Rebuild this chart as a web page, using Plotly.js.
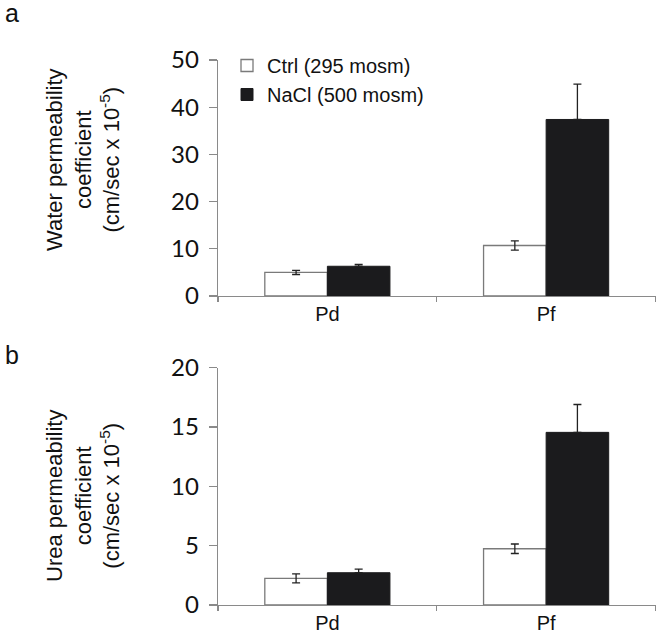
<!DOCTYPE html>
<html>
<head>
<meta charset="utf-8">
<script src="https://cdn.plot.ly/plotly-3.0.1.min.js"></script>
<style>html,body{margin:0;padding:0;background:#fff;}#chart{width:664px;height:636px;}</style>
</head>
<body>
<div id="chart"></div>
<script>
// ---- data ----
const categories = ['Pd', 'Pf'];
const seriesNames = ['Ctrl (295 mosm)', 'NaCl (500 mosm)'];
// panel a: water permeability
const waterCtrl = [5.0, 10.7];
const waterCtrlErr = [0.45, 1.0];
const waterNaCl = [6.3, 37.4];
const waterNaClErr = [0.4, 7.5];
// panel b: urea permeability
const ureaCtrl = [2.25, 4.74];
const ureaCtrlErr = [0.38, 0.4];
const ureaNaCl = [2.72, 14.55];
const ureaNaClErr = [0.3, 2.35];
const waterTicks = [0, 10, 20, 30, 40, 50];
const ureaTicks = [0, 5, 10, 15, 20];

// ---- styles ----
const ARIAL = 'Liberation Sans, Arial, sans-serif';
const TICKFONT = 'Lato, Liberation Sans, sans-serif';
const AXIS = '#8a8a8a';
const ctrlStyle = {color: '#ffffff', line: {color: '#7a7a7a', width: 1.3}};
const naclStyle = {color: '#1b1b1d', line: {color: '#1b1b1d', width: 1}};

function bar(y, err, name, style, xa, ya, legend, bothSides) {
  const e = {type: 'data', array: err, color: '#222', thickness: 1.3, width: 4};
  if (bothSides) { e.symmetric = true; }
  else { e.symmetric = false; e.arrayminus = err.map(function () { return 0; }); }
  return {
    type: 'bar', x: categories, y: y, name: name,
    marker: style, xaxis: xa, yaxis: ya, showlegend: legend,
    error_y: e, hoverinfo: 'skip'
  };
}

const traces = [
  bar(waterCtrl, waterCtrlErr, seriesNames[0], ctrlStyle, 'x', 'y', true, true),
  bar(waterNaCl, waterNaClErr, seriesNames[1], naclStyle, 'x', 'y', true, false),
  bar(ureaCtrl, ureaCtrlErr, seriesNames[0], ctrlStyle, 'x2', 'y2', false, true),
  bar(ureaNaCl, ureaNaClErr, seriesNames[1], naclStyle, 'x2', 'y2', false, false)
];

function xax(anchor) {
  return {
    anchor: anchor, domain: [218/664, 655.5/664], type: 'category',
    showline: true, linecolor: AXIS, linewidth: 1.3,
    ticks: 'outside', tickson: 'boundaries', ticklen: 5, tickcolor: AXIS, tickwidth: 1.3,
    showgrid: false, zeroline: false,
    tickfont: {family: ARIAL, size: 20, color: '#111'}
  };
}
function yax(anchor, domain, range, ticks) {
  return {
    anchor: anchor, domain: domain, range: range,
    tickvals: ticks, ticktext: ticks.map(String),
    showline: true, linecolor: AXIS, linewidth: 1.3,
    ticks: 'outside', ticklen: 8, tickcolor: AXIS, tickwidth: 1.3,
    showgrid: false, zeroline: false,
    tickfont: {family: TICKFONT, size: 24, color: '#111'},
    ticklabelstandoff: 5
  };
}

const layout = {
  width: 664, height: 636,
  margin: {l: 0, r: 0, t: 0, b: 0},
  paper_bgcolor: '#fff', plot_bgcolor: 'rgba(0,0,0,0)',
  barmode: 'group', bargap: 0.428, bargroupgap: 0,
  xaxis: xax('y'),
  yaxis: yax('x', [340/636, 576/636], [0, 50], waterTicks),
  xaxis2: xax('y2'),
  yaxis2: yax('x2', [31/636, 268.3/636], [0, 20], ureaTicks),
  showlegend: true,
  legend: {
    x: 227/664, y: 1 - 46/636, xanchor: 'left', yanchor: 'top',
    bgcolor: 'rgba(0,0,0,0)', borderwidth: 0,
    font: {family: ARIAL, size: 20, color: '#111'},
    tracegroupgap: 0, itemclick: false
  },
  annotations: [
    {text: 'a', x: 12/664, y: 1 - 13/636, xref: 'paper', yref: 'paper', xanchor: 'center', yanchor: 'middle',
     showarrow: false, font: {family: ARIAL, size: 25, color: '#111'}},
    {text: 'b', x: 12/664, y: 1 - 355/636, xref: 'paper', yref: 'paper', xanchor: 'center', yanchor: 'middle',
     showarrow: false, font: {family: ARIAL, size: 25, color: '#111'}},
    {text: 'Water permeability<br>coefficient<br>(cm/sec x 10<sup>-5</sup>)', textangle: -90,
     x: 83/664, y: 1 - 160/636, xref: 'paper', yref: 'paper', xanchor: 'center', yanchor: 'middle',
     showarrow: false, align: 'center', font: {family: ARIAL, size: 22, color: '#111'}},
    {text: 'Urea permeability<br>coefficient<br>(cm/sec x 10<sup>-5</sup>)', textangle: -90,
     x: 83/664, y: 1 - 496/636, xref: 'paper', yref: 'paper', xanchor: 'center', yanchor: 'middle',
     showarrow: false, align: 'center', font: {family: ARIAL, size: 22, color: '#111'}}
  ]
};

Plotly.newPlot('chart', traces, layout, {staticPlot: true, displayModeBar: false});
</script>
</body>
</html>
